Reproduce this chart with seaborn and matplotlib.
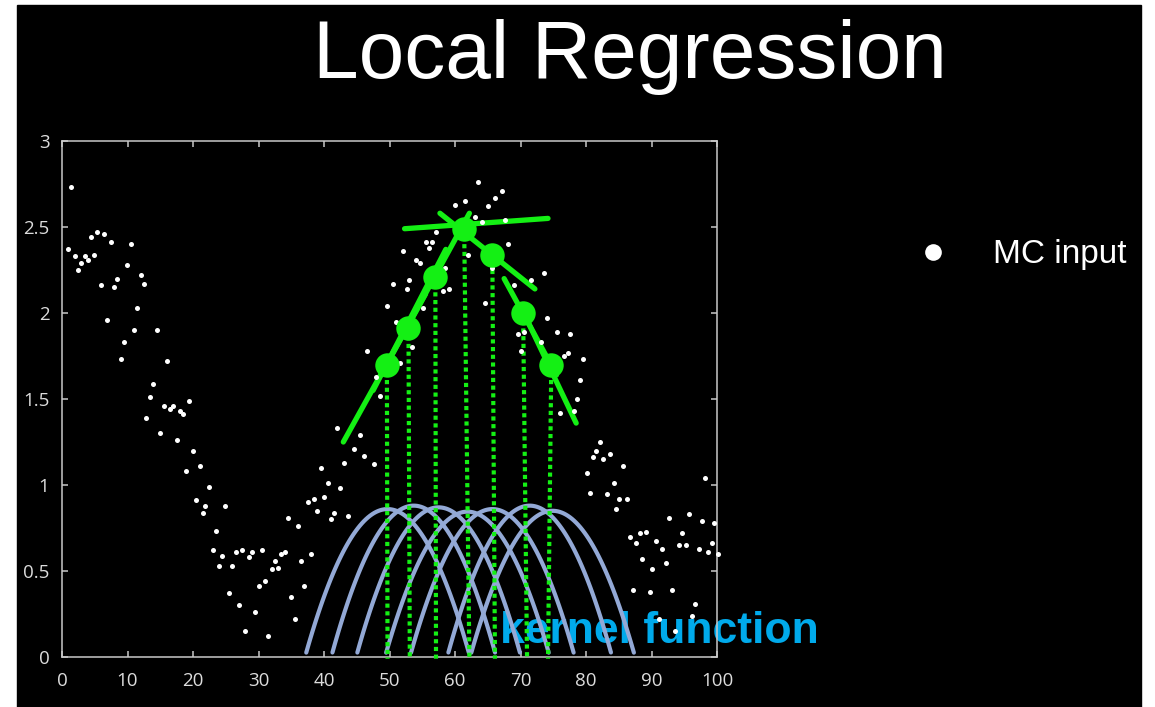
import numpy as np
import pandas as pd
import matplotlib
matplotlib.use("Agg")
import matplotlib.pyplot as plt
import seaborn as sns
from matplotlib.patches import Rectangle
from matplotlib.lines import Line2D

# MC input samples
mc_x = [0.97, 1.4, 1.93, 2.5, 2.9, 3.46, 3.9, 4.4, 4.9, 5.4, 5.95, 6.46, 6.9, 7.5, 8.0, 8.4,
        9.0, 9.5, 9.9, 10.5, 11.0, 11.45, 12.0, 12.5, 12.9, 13.5, 13.9, 14.45, 15.0, 15.5,
        16.0, 16.5, 17.0, 17.5, 18.0, 18.5, 19.0, 19.4, 19.95,
        20.5, 21.0, 21.5, 21.9, 22.4, 23.0, 23.5, 24.0, 24.5, 24.9, 25.5, 26.0, 26.5, 27.0,
        27.5, 28.0, 28.5, 29.0, 29.5, 30.0, 30.5, 31.0, 31.5, 32.0, 32.5, 33.0, 33.5, 34.0,
        34.5, 35.0, 35.5, 36.0, 36.5, 37.0, 37.5, 38.0, 38.5, 39.0, 39.5, 40.0, 40.6, 41.0,
        41.5, 42.0, 42.5, 43.0, 43.6, 44.6, 45.5, 46.1, 46.5, 47.6, 48.0, 48.5,
        49.6, 50.5, 51.0, 51.6, 52.0, 52.6, 53.0, 53.5, 54.0, 54.6, 55.1, 55.6, 56.0, 56.5,
        57.1, 58.1, 58.5, 59.1, 60.0, 61.5, 62.0, 63.1, 63.5, 64.1, 64.6, 65.1, 65.6, 66.1,
        67.1, 67.6, 68.1, 69.05, 69.6, 70.0, 70.6, 71.6, 73.1, 73.6, 74.1, 75.6, 76.1, 76.6,
        77.2, 77.6, 78.1, 78.6, 79.1, 79.6,
        80.2, 80.6, 81.1, 81.6, 82.1, 82.6, 83.2, 83.7, 84.2, 84.6, 85.1, 85.6, 86.2, 86.7,
        87.2, 87.6, 88.2, 88.6, 89.2, 89.7, 90.1, 90.7, 91.2, 91.6, 92.2, 92.6, 93.2, 93.6,
        94.2, 94.7, 95.2, 95.7, 96.2, 96.6, 97.2, 97.7, 98.1, 98.7, 99.2, 99.6, 100.2]
mc_y = [2.37, 2.73, 2.33, 2.25, 2.29, 2.33, 2.31, 2.44, 2.34, 2.47, 2.16, 2.46, 1.96, 2.41, 2.15, 2.20,
        1.73, 1.83, 2.28, 2.40, 1.90, 2.03, 2.22, 2.17, 1.39, 1.51, 1.59, 1.90, 1.30, 1.46,
        1.72, 1.44, 1.46, 1.26, 1.43, 1.41, 1.08, 1.49, 1.20,
        0.91, 1.11, 0.84, 0.88, 0.99, 0.62, 0.73, 0.53, 0.59, 0.88, 0.37, 0.53, 0.61, 0.30,
        0.62, 0.15, 0.58, 0.61, 0.26, 0.41, 0.62, 0.44, 0.12, 0.51, 0.56, 0.52, 0.60, 0.61,
        0.81, 0.35, 0.22, 0.76, 0.56, 0.41, 0.90, 0.60, 0.92, 0.85, 1.10, 0.93, 1.01, 0.80,
        0.84, 1.33, 0.98, 1.13, 0.82, 1.21, 1.29, 1.17, 1.78, 1.12, 1.63, 1.52,
        2.04, 2.17, 1.95, 1.71, 2.36, 2.14, 2.19, 1.80, 2.31, 2.29, 2.03, 2.41, 2.38, 2.41,
        2.47, 2.13, 2.26, 2.14, 2.63, 2.65, 2.34, 2.56, 2.76, 2.53, 2.06, 2.62, 2.26, 2.67,
        2.71, 2.54, 2.40, 2.16, 1.88, 1.78, 1.89, 2.19, 1.83, 2.23, 1.97, 1.89, 1.42, 1.75,
        1.77, 1.88, 1.43, 1.50, 1.61, 1.73,
        1.07, 0.955, 1.16, 1.20, 1.25, 1.15, 0.95, 1.18, 1.01, 0.86, 0.92, 1.11, 0.92, 0.70,
        0.39, 0.66, 0.72, 0.57, 0.725, 0.38, 0.51, 0.675, 0.22, 0.63, 0.545, 0.81, 0.39, 0.15,
        0.65, 0.72, 0.65, 0.83, 0.24, 0.31, 0.63, 0.79, 1.04, 0.61, 0.665, 0.78, 0.60]

# local regression estimates and where their drop lines meet the axis
fit_x = [49.6, 52.9, 57.0, 61.4, 65.7, 70.4, 74.7]
fit_y = [1.70, 1.91, 2.21, 2.49, 2.34, 2.00, 1.70]
foot_x = [49.7, 53.1, 57.1, 62.2, 66.1, 71.0, 74.2]

# local linear fits, one segment per estimate
seg_x0 = [42.95, 47.5, 50.0, 52.3, 57.7, 67.5, 71.0]
seg_y0 = [1.25, 1.55, 1.73, 2.49, 2.58, 2.20, 1.96]
seg_x1 = [55.5, 58.6, 62.2, 74.2, 72.2, 75.5, 78.5]
seg_y1 = [2.11, 2.37, 2.58, 2.55, 2.14, 1.64, 1.36]

# kernel weights: centre, peak height, half width
kern_c = [49.7, 53.7, 57.5, 61.9, 65.7, 71.4, 74.9]
kern_h = [0.86, 0.88, 0.87, 0.845, 0.86, 0.88, 0.85]
kern_w = 12.6

xticks = list(range(0, 101, 10))
yticks = [0, 0.5, 1, 1.5, 2, 2.5, 3]
ytick_labels = ["0", "0.5", "1", "1.5", "2", "2.5", "3"]

GREEN = "#14f014"
KERN = "#93a9d6"
AXC = "#c8c8c8"

sns.set_theme(style="ticks")
plt.rcParams["font.family"] = ["Open Sans", "DejaVu Sans"]

W, H = 1155, 707
fig = plt.figure(figsize=(W / 100, H / 100), dpi=100, facecolor="white")
fig.add_artist(Rectangle((17 / W, 0), (1141 - 17) / W, (H - 5) / H,
                         transform=fig.transFigure, color="black", zorder=-10))

ax = fig.add_axes([62 / W, (H - 657) / H, (717 - 62) / W, (657 - 141) / H])
ax.set_facecolor("black")

# kernel curves (Epanechnikov shape)
rows = []
u = np.linspace(-0.985, 0.985, 80)
for k, (c, h) in enumerate(zip(kern_c, kern_h)):
    for uu in u:
        rows.append({"k": k, "x": c + kern_w * uu, "y": h * (1 - uu ** 2)})
kern_df = pd.DataFrame(rows)
sns.lineplot(data=kern_df, x="x", y="y", units="k", estimator=None, sort=False,
             color=KERN, lw=3.0, ax=ax, zorder=2)

# drop lines from each estimate to the axis
for tx, ty, fx in zip(fit_x, fit_y, foot_x):
    ax.plot([tx, fx], [ty, -0.01], color=GREEN, lw=3.0, ls=(0, (1.0, 0.85)),
            zorder=3, clip_on=False)

# local linear fits
seg_df = pd.DataFrame({
    "seg": list(range(len(seg_x0))) * 2,
    "x": seg_x0 + seg_x1,
    "y": seg_y0 + seg_y1,
})
sns.lineplot(data=seg_df, x="x", y="y", units="seg", estimator=None, sort=False,
             color=GREEN, lw=3.8, ax=ax, zorder=3)

ax.text(66.9, 0.081, "kernel function", color="#00aaeb", fontsize=32, fontweight="bold",
        family=["Liberation Sans", "DejaVu Sans"], ha="left", va="baseline", zorder=1,
        clip_on=False)

sns.scatterplot(x=mc_x, y=mc_y, color="white", s=13, linewidth=0, ax=ax, zorder=4,
                clip_on=False)
sns.scatterplot(x=fit_x, y=fit_y, color=GREEN, s=310, linewidth=0, ax=ax, zorder=5)

ax.set_xlim(0, 100)
ax.set_ylim(0, 3)
ax.set_xticks(xticks)
ax.set_xticklabels([str(t) for t in xticks])
ax.set_yticks(yticks)
ax.set_yticklabels(ytick_labels)
ax.set_xlabel("")
ax.set_ylabel("")
for s in ax.spines.values():
    s.set_visible(True)
    s.set_color(AXC)
    s.set_linewidth(1.1)
ax.tick_params(axis="both", which="both", direction="in", length=4, width=1.1, color=AXC,
               top=True, right=True, labelcolor="#dcdcdc", labelsize=13.5)
ax.tick_params(axis="x", pad=11)
ax.tick_params(axis="y", pad=9)

fig.text(630 / W, (H - 78) / H, "Local Regression", ha="center", va="baseline",
         fontsize=59, color="white", family=["Liberation Sans", "DejaVu Sans"])

fig.add_artist(Line2D([933 / W], [(H - 252) / H], marker="o", ms=12, color="white",
                      markeredgewidth=0, transform=fig.transFigure))
fig.text(993 / W, (H - 263) / H, "MC input", ha="left", va="baseline", fontsize=24,
         color="white", family=["Liberation Sans", "DejaVu Sans"])

fig.savefig("out.png", dpi=100, facecolor=fig.get_facecolor())
